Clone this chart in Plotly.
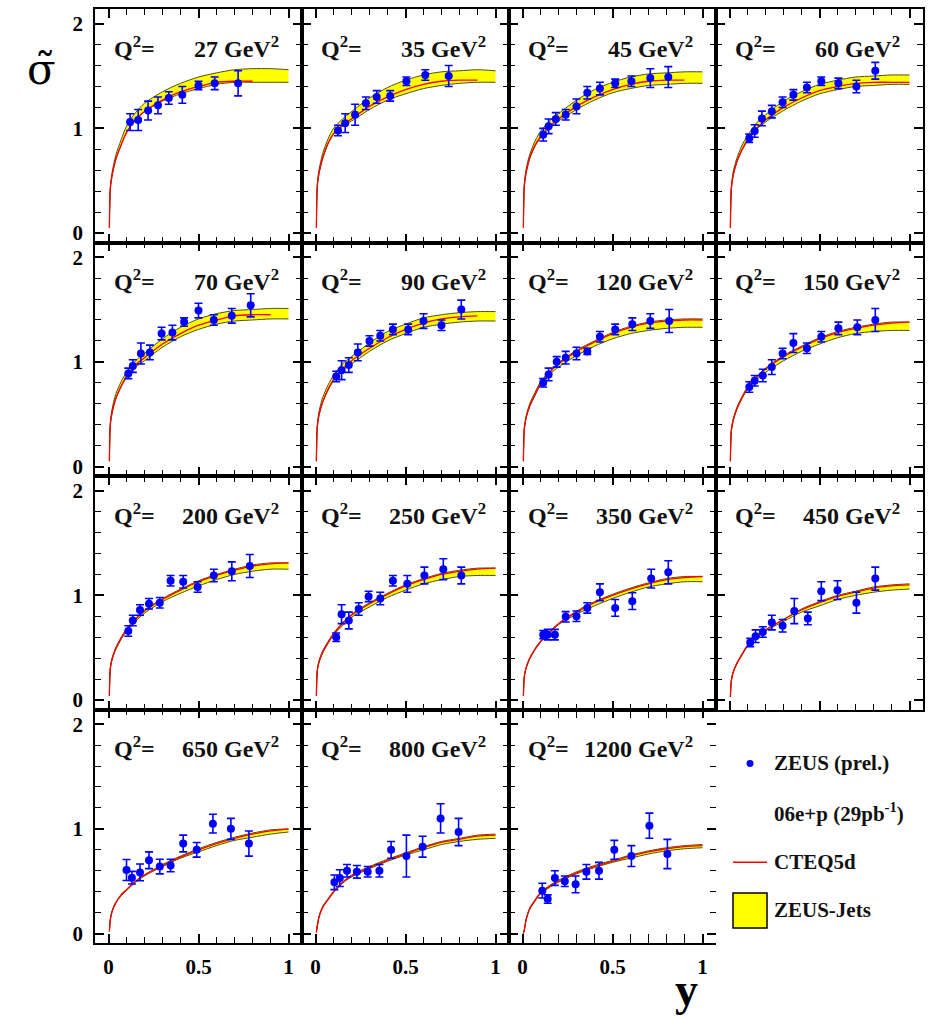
import plotly.graph_objects as go
from plotly.subplots import make_subplots

# ---------------- data ----------------
Q2_LABELS = ["27", "35", "45", "60", "70", "90", "120", "150",
             "200", "250", "350", "450", "650", "800", "1200"]

DATA_Y = [
    [0.12, 0.165, 0.22, 0.275, 0.335, 0.41, 0.50, 0.59, 0.72],
    [0.125, 0.165, 0.22, 0.28, 0.34, 0.415, 0.505, 0.61, 0.74],
    [0.115, 0.145, 0.185, 0.24, 0.30, 0.36, 0.43, 0.515, 0.605, 0.71, 0.81],
    [0.11, 0.14, 0.18, 0.235, 0.295, 0.355, 0.43, 0.51, 0.605, 0.705, 0.81],
    [0.11, 0.135, 0.18, 0.23, 0.295, 0.355, 0.42, 0.50, 0.585, 0.685, 0.79],
    [0.115, 0.145, 0.185, 0.235, 0.30, 0.36, 0.43, 0.515, 0.60, 0.70, 0.81],
    [0.115, 0.145, 0.19, 0.24, 0.30, 0.36, 0.43, 0.515, 0.61, 0.71, 0.815],
    [0.11, 0.14, 0.185, 0.235, 0.295, 0.355, 0.43, 0.51, 0.605, 0.71, 0.81],
    [0.11, 0.135, 0.175, 0.225, 0.285, 0.345, 0.415, 0.495, 0.585, 0.685, 0.785],
    [0.115, 0.145, 0.185, 0.24, 0.295, 0.36, 0.43, 0.51, 0.605, 0.71, 0.81],
    [0.115, 0.14, 0.18, 0.24, 0.30, 0.36, 0.43, 0.515, 0.61, 0.715, 0.81],
    [0.115, 0.145, 0.185, 0.235, 0.295, 0.36, 0.435, 0.51, 0.60, 0.705, 0.81],
    [0.10, 0.13, 0.175, 0.225, 0.285, 0.345, 0.415, 0.49, 0.58, 0.68, 0.78],
    [0.105, 0.135, 0.175, 0.23, 0.29, 0.355, 0.42, 0.505, 0.595, 0.695, 0.795],
    [0.11, 0.14, 0.18, 0.235, 0.295, 0.355, 0.425, 0.51, 0.605, 0.705, 0.805],
]

DATA_SIGMA = [
    [1.06, 1.08, 1.17, 1.22, 1.29, 1.32, 1.41, 1.43, 1.43],
    [0.98, 1.05, 1.13, 1.24, 1.30, 1.31, 1.45, 1.51, 1.50],
    [0.94, 1.02, 1.09, 1.13, 1.21, 1.34, 1.38, 1.43, 1.45, 1.48, 1.49],
    [0.905, 0.975, 1.095, 1.16, 1.25, 1.32, 1.39, 1.45, 1.43, 1.40, 1.55],
    [0.89, 0.96, 1.08, 1.09, 1.27, 1.28, 1.38, 1.49, 1.40, 1.44, 1.54],
    [0.86, 0.92, 0.97, 1.09, 1.20, 1.25, 1.31, 1.31, 1.39, 1.35, 1.50],
    [0.80, 0.88, 1.00, 1.04, 1.08, 1.10, 1.24, 1.31, 1.36, 1.39, 1.39],
    [0.76, 0.82, 0.87, 0.95, 1.08, 1.18, 1.13, 1.24, 1.32, 1.33, 1.40],
    [0.66, 0.76, 0.86, 0.92, 0.93, 1.14, 1.13, 1.08, 1.19, 1.23, 1.28],
    [0.60, 0.82, 0.76, 0.87, 0.99, 0.97, 1.14, 1.11, 1.19, 1.25, 1.19],
    [0.625, 0.625, 0.625, 0.795, 0.80, 0.88, 1.03, 0.88, 0.945, 1.16, 1.22],
    [0.55, 0.61, 0.65, 0.74, 0.71, 0.85, 0.78, 1.04, 1.05, 0.93, 1.16],
    [0.607, 0.534, 0.584, 0.70, 0.64, 0.65, 0.86, 0.80, 1.05, 1.00, 0.86],
    [0.49, 0.53, 0.60, 0.59, 0.59, 0.60, 0.80, 0.74, 0.83, 1.10, 0.97],
    [0.41, 0.33, 0.53, 0.50, 0.47, 0.59, 0.60, 0.80, 0.74, 1.03, 0.76],
]

DATA_ERR = [
    [0.08, 0.10, 0.09, 0.08, 0.06, 0.08, 0.04, 0.06, 0.12],
    [0.05, 0.09, 0.10, 0.06, 0.06, 0.05, 0.04, 0.05, 0.10],
    [0.06, 0.07, 0.06, 0.05, 0.07, 0.06, 0.06, 0.04, 0.05, 0.09, 0.10],
    [0.04, 0.06, 0.07, 0.06, 0.05, 0.05, 0.05, 0.04, 0.05, 0.06, 0.08],
    [0.05, 0.06, 0.10, 0.07, 0.06, 0.07, 0.04, 0.07, 0.05, 0.07, 0.11],
    [0.05, 0.09, 0.07, 0.08, 0.05, 0.05, 0.05, 0.05, 0.07, 0.05, 0.09],
    [0.04, 0.06, 0.05, 0.06, 0.06, 0.03, 0.05, 0.05, 0.06, 0.07, 0.11],
    [0.05, 0.05, 0.06, 0.07, 0.05, 0.09, 0.05, 0.05, 0.06, 0.07, 0.11],
    [0.05, 0.05, 0.05, 0.05, 0.05, 0.05, 0.06, 0.05, 0.06, 0.09, 0.11],
    [0.04, 0.09, 0.08, 0.06, 0.05, 0.06, 0.05, 0.08, 0.08, 0.10, 0.08],
    [0.04, 0.05, 0.05, 0.05, 0.05, 0.05, 0.08, 0.08, 0.08, 0.09, 0.11],
    [0.04, 0.06, 0.05, 0.07, 0.06, 0.12, 0.06, 0.09, 0.09, 0.10, 0.11],
    [0.10, 0.06, 0.08, 0.08, 0.07, 0.06, 0.08, 0.07, 0.09, 0.10, 0.12],
    [0.07, 0.08, 0.06, 0.06, 0.05, 0.06, 0.08, 0.20, 0.10, 0.14, 0.13],
    [0.07, 0.04, 0.07, 0.05, 0.08, 0.07, 0.08, 0.09, 0.10, 0.12, 0.14],
]

CURVE_Y = [0.005, 0.01, 0.02, 0.04, 0.07, 0.1, 0.15, 0.2, 0.3, 0.4, 0.5, 0.6, 0.7, 0.8, 0.9, 1.0]

CTEQ = [
    [0.05, 0.42, 0.55, 0.70, 0.84, 0.96, 1.08, 1.16, 1.27, 1.35, 1.40, 1.44, 1.45, 1.45, None, None],
    [0.05, 0.45, 0.58, 0.72, 0.86, 0.95, 1.03, 1.09, 1.21, 1.30, 1.37, 1.42, 1.45, 1.46, 1.46, None],
    [0.05, 0.45, 0.58, 0.72, 0.84, 0.92, 1.02, 1.09, 1.21, 1.30, 1.37, 1.42, 1.45, 1.46, 1.46, None],
    [0.05, 0.42, 0.55, 0.68, 0.80, 0.89, 1.00, 1.08, 1.20, 1.29, 1.36, 1.40, 1.43, 1.44, 1.44, 1.44],
    [0.05, 0.40, 0.52, 0.65, 0.77, 0.86, 0.97, 1.04, 1.17, 1.27, 1.35, 1.40, 1.44, 1.45, 1.45, None],
    [0.05, 0.38, 0.50, 0.62, 0.74, 0.83, 0.93, 1.01, 1.13, 1.23, 1.31, 1.37, 1.41, 1.43, 1.44, None],
    [0.05, 0.36, 0.47, 0.58, 0.69, 0.79, 0.90, 0.98, 1.10, 1.19, 1.27, 1.33, 1.37, 1.39, 1.40, 1.40],
    [0.05, 0.34, 0.44, 0.55, 0.66, 0.75, 0.85, 0.93, 1.05, 1.14, 1.22, 1.28, 1.32, 1.35, 1.37, 1.38],
    [0.04, 0.30, 0.39, 0.49, 0.59, 0.67, 0.77, 0.85, 0.96, 1.05, 1.13, 1.19, 1.24, 1.28, 1.30, 1.31],
    [0.04, 0.28, 0.37, 0.46, 0.55, 0.63, 0.73, 0.81, 0.92, 1.01, 1.09, 1.15, 1.20, 1.23, 1.25, 1.26],
    [0.04, 0.22, 0.31, 0.40, 0.49, 0.56, 0.65, 0.73, 0.84, 0.93, 1.00, 1.06, 1.11, 1.15, 1.17, 1.18],
    [0.03, 0.18, 0.26, 0.35, 0.44, 0.52, 0.60, 0.67, 0.77, 0.86, 0.93, 0.99, 1.03, 1.07, 1.09, 1.10],
    [0.02, 0.13, 0.21, 0.29, 0.37, 0.42, 0.50, 0.56, 0.65, 0.73, 0.80, 0.86, 0.91, 0.95, 0.98, 1.00],
    [0.01, 0.07, 0.16, 0.25, 0.33, 0.40, 0.49, 0.55, 0.63, 0.70, 0.76, 0.82, 0.87, 0.90, 0.93, 0.94],
    [0.00, 0.03, 0.13, 0.24, 0.32, 0.39, 0.45, 0.50, 0.58, 0.64, 0.69, 0.74, 0.78, 0.81, 0.83, 0.84],
]

BAND_LO = [
    [0.05, 0.42, 0.55, 0.70, 0.84, 0.96, 1.08, 1.16, 1.26, 1.33, 1.38, 1.42, 1.44, 1.44, 1.44, 1.44],
    [0.05, 0.44, 0.57, 0.71, 0.85, 0.94, 1.02, 1.07, 1.18, 1.27, 1.33, 1.38, 1.41, 1.43, 1.44, 1.44],
    [0.05, 0.44, 0.57, 0.71, 0.83, 0.91, 1.00, 1.07, 1.18, 1.27, 1.34, 1.38, 1.41, 1.42, 1.43, 1.43],
    [0.05, 0.41, 0.54, 0.67, 0.79, 0.88, 0.99, 1.06, 1.17, 1.26, 1.33, 1.37, 1.40, 1.41, 1.42, 1.42],
    [0.05, 0.39, 0.51, 0.64, 0.76, 0.85, 0.95, 1.01, 1.14, 1.24, 1.31, 1.36, 1.39, 1.40, 1.41, 1.41],
    [0.05, 0.37, 0.49, 0.61, 0.73, 0.82, 0.92, 0.98, 1.10, 1.20, 1.27, 1.33, 1.36, 1.38, 1.39, 1.39],
    [0.05, 0.35, 0.46, 0.57, 0.68, 0.78, 0.88, 0.95, 1.06, 1.15, 1.22, 1.27, 1.30, 1.32, 1.33, 1.33],
    [0.05, 0.33, 0.43, 0.54, 0.65, 0.74, 0.83, 0.90, 1.01, 1.10, 1.17, 1.23, 1.27, 1.29, 1.30, 1.30],
    [0.04, 0.30, 0.39, 0.48, 0.58, 0.66, 0.75, 0.83, 0.94, 1.02, 1.09, 1.15, 1.20, 1.23, 1.25, 1.25],
    [0.04, 0.28, 0.36, 0.45, 0.54, 0.62, 0.71, 0.79, 0.89, 0.98, 1.05, 1.11, 1.15, 1.18, 1.19, 1.19],
    [0.04, 0.22, 0.30, 0.39, 0.48, 0.55, 0.64, 0.72, 0.82, 0.90, 0.97, 1.03, 1.08, 1.11, 1.13, 1.13],
    [0.03, 0.18, 0.26, 0.34, 0.43, 0.51, 0.59, 0.66, 0.75, 0.84, 0.90, 0.96, 1.00, 1.03, 1.05, 1.06],
    [0.02, 0.13, 0.21, 0.29, 0.36, 0.41, 0.49, 0.55, 0.64, 0.72, 0.78, 0.84, 0.89, 0.92, 0.95, 0.97],
    [0.01, 0.07, 0.16, 0.25, 0.32, 0.39, 0.48, 0.54, 0.62, 0.69, 0.75, 0.80, 0.85, 0.88, 0.90, 0.91],
    [0.00, 0.03, 0.13, 0.23, 0.31, 0.38, 0.44, 0.49, 0.57, 0.63, 0.68, 0.72, 0.76, 0.79, 0.81, 0.82],
]

BAND_HI = [
    [0.06, 0.44, 0.58, 0.74, 0.89, 1.02, 1.15, 1.24, 1.35, 1.43, 1.49, 1.53, 1.56, 1.57, 1.57, 1.56],
    [0.06, 0.47, 0.61, 0.76, 0.90, 1.00, 1.09, 1.16, 1.29, 1.39, 1.46, 1.51, 1.54, 1.55, 1.56, 1.55],
    [0.06, 0.47, 0.61, 0.75, 0.88, 0.97, 1.07, 1.14, 1.27, 1.37, 1.44, 1.49, 1.52, 1.53, 1.54, 1.54],
    [0.06, 0.44, 0.58, 0.71, 0.84, 0.93, 1.05, 1.13, 1.26, 1.35, 1.42, 1.46, 1.49, 1.50, 1.51, 1.51],
    [0.06, 0.42, 0.55, 0.69, 0.81, 0.90, 1.01, 1.08, 1.22, 1.33, 1.41, 1.46, 1.49, 1.50, 1.51, 1.51],
    [0.06, 0.40, 0.53, 0.66, 0.78, 0.87, 0.98, 1.05, 1.18, 1.29, 1.36, 1.42, 1.45, 1.47, 1.48, 1.48],
    [0.06, 0.37, 0.48, 0.60, 0.71, 0.81, 0.91, 0.99, 1.11, 1.20, 1.28, 1.34, 1.38, 1.40, 1.41, 1.41],
    [0.06, 0.35, 0.45, 0.56, 0.67, 0.76, 0.86, 0.94, 1.06, 1.15, 1.23, 1.29, 1.33, 1.36, 1.38, 1.38],
    [0.05, 0.31, 0.40, 0.50, 0.60, 0.68, 0.78, 0.86, 0.97, 1.06, 1.14, 1.20, 1.25, 1.29, 1.31, 1.31],
    [0.05, 0.29, 0.38, 0.47, 0.56, 0.64, 0.74, 0.82, 0.93, 1.02, 1.10, 1.16, 1.21, 1.24, 1.26, 1.26],
    [0.05, 0.23, 0.31, 0.40, 0.49, 0.56, 0.65, 0.73, 0.85, 0.94, 1.01, 1.07, 1.12, 1.16, 1.18, 1.18],
    [0.04, 0.19, 0.27, 0.35, 0.44, 0.52, 0.60, 0.67, 0.77, 0.87, 0.94, 1.00, 1.04, 1.08, 1.10, 1.11],
    [0.03, 0.14, 0.22, 0.30, 0.37, 0.42, 0.50, 0.56, 0.66, 0.74, 0.81, 0.87, 0.92, 0.96, 0.99, 1.00],
    [0.02, 0.08, 0.17, 0.26, 0.33, 0.40, 0.49, 0.56, 0.64, 0.71, 0.77, 0.83, 0.88, 0.91, 0.94, 0.95],
    [0.01, 0.04, 0.14, 0.24, 0.32, 0.39, 0.46, 0.51, 0.59, 0.65, 0.70, 0.75, 0.79, 0.82, 0.84, 0.85],
]

LEGEND_TEXT = ["ZEUS (prel.)", "06e+p (29pb<sup>-1</sup>)", "CTEQ5d", "ZEUS-Jets"]

# ---------------- styling ----------------
W, H = 932, 1020
ML, MR, MT, MB = 95, 9, 7, 77
PW, PH = W - ML - MR, H - MT - MB
FONT = "Liberation Serif"
BLUE = "#0000ff"
RED = "#ff0000"
YELLOW = "#ffff00"
EDGE = "#3a3a00"
XR = [-0.075, 1.075]
YR = [-0.09, 2.14]


def px_x(v):
    return (v - ML) / PW


def px_y(v):
    return (H - MB - v) / PH


fig = make_subplots(rows=4, cols=4, horizontal_spacing=0, vertical_spacing=0)

for i in range(len(Q2_LABELS)):
    r, c = i // 4 + 1, i % 4 + 1
    fig.add_trace(go.Scatter(x=CURVE_Y, y=BAND_LO[i], mode="lines",
                             line=dict(color=EDGE, width=0.9, shape="spline", smoothing=0.8),
                             hoverinfo="skip", showlegend=False), row=r, col=c)
    fig.add_trace(go.Scatter(x=CURVE_Y, y=BAND_HI[i], mode="lines", fill="tonexty",
                             fillcolor=YELLOW,
                             line=dict(color=EDGE, width=0.9, shape="spline", smoothing=0.8),
                             hoverinfo="skip", showlegend=False), row=r, col=c)
    fig.add_trace(go.Scatter(x=CURVE_Y, y=CTEQ[i], mode="lines",
                             line=dict(color=RED, width=1.3, shape="spline", smoothing=0.8),
                             hoverinfo="skip", showlegend=False), row=r, col=c)
    fig.add_trace(go.Scatter(x=DATA_Y[i], y=DATA_SIGMA[i], mode="markers",
                             marker=dict(color=BLUE, size=8),
                             error_y=dict(type="data", array=DATA_ERR[i], color=BLUE,
                                          thickness=1.6, width=4),
                             showlegend=False), row=r, col=c)

tickfont = dict(family=FONT, size=21, color="black", weight="bold")

for k in range(1, 17):
    r, c = (k - 1) // 4 + 1, (k - 1) % 4 + 1
    xa = "xaxis" if k == 1 else f"xaxis{k}"
    ya = "yaxis" if k == 1 else f"yaxis{k}"
    if k == 16:
        fig.layout[xa].update(visible=False, range=XR)
        fig.layout[ya].update(visible=False, range=YR)
        continue
    fig.layout[xa].update(
        range=XR, showline=True, linecolor="black", linewidth=1.6,
        mirror="allticks", ticks="inside", ticklen=9, tickwidth=1.5, tickcolor="black",
        tick0=0, dtick=0.5, showgrid=False, zeroline=False,
        minor=dict(tick0=0, dtick=0.1, ticks="inside", ticklen=6, tickwidth=1.3,
                   tickcolor="black", showgrid=False),
        showticklabels=(r == 4), tickfont=tickfont, ticklabelstandoff=4,
    )
    fig.layout[ya].update(
        range=YR, showline=True, linecolor="black", linewidth=1.6,
        mirror=(False if k == 15 else "allticks"), ticks="inside", ticklen=9,
        tickwidth=1.5, tickcolor="black",
        tick0=0, dtick=1, showgrid=False, zeroline=False,
        minor=dict(tick0=0, dtick=0.2, ticks="inside", ticklen=6, tickwidth=1.3,
                   tickcolor="black", showgrid=False),
        showticklabels=(c == 1), tickfont=tickfont, ticklabelstandoff=6,
    )

# right-side ticks (without line) for the last panel
fig.add_trace(go.Scatter(x=[None], y=[None], xaxis="x15", yaxis="y17",
                         showlegend=False, hoverinfo="skip"))
fig.update_layout(yaxis17=dict(
    overlaying="y15", side="right", anchor="x15", range=YR, showline=False,
    ticks="inside", ticklen=9, tickwidth=1.5, tickcolor="black", tick0=0, dtick=1,
    showgrid=False, zeroline=False, showticklabels=False,
    minor=dict(tick0=0, dtick=0.2, ticks="inside", ticklen=6, tickwidth=1.3,
               tickcolor="black", showgrid=False),
))

annotations = []
for i, q in enumerate(Q2_LABELS):
    k = i + 1
    xr = "x domain" if k == 1 else f"x{k} domain"
    yr = "y" if k == 1 else f"y{k}"
    annotations.append(dict(xref=xr, yref=yr, x=0.08, y=1.78, xanchor="left",
                            yanchor="middle", showarrow=False,
                            text="<b>Q<sup>2</sup>=</b>",
                            font=dict(family=FONT, size=24, color="#111")))
    annotations.append(dict(xref=xr, yref=yr, x=0.90, y=1.78, xanchor="right",
                            yanchor="middle", showarrow=False,
                            text=f"<b>{q} GeV<sup>2</sup></b>",
                            font=dict(family=FONT, size=24, color="#111")))

# axis titles
annotations.append(dict(xref="paper", yref="paper", x=px_x(42), y=px_y(68),
                        xanchor="center", yanchor="middle", showarrow=False,
                        text="σ\u0303", font=dict(family="DejaVu Serif", size=42,
                                                  color="black")))
annotations.append(dict(xref="paper", yref="paper", x=px_x(686), y=px_y(990),
                        xanchor="center", yanchor="middle", showarrow=False,
                        text="<b>y</b>", font=dict(family=FONT, size=46, color="black")))

leg_rows = [763, 812, 862, 910]
for t, yy in zip(LEGEND_TEXT, leg_rows):
    annotations.append(dict(xref="paper", yref="paper", x=px_x(772), y=px_y(yy),
                            xanchor="left", yanchor="middle", showarrow=False,
                            text=f"<b>{t}</b>",
                            font=dict(family=FONT, size=21, color="#111")))

shapes = [
    dict(type="circle", xref="paper", yref="paper",
         x0=px_x(746.5), x1=px_x(753.5), y0=px_y(766.5), y1=px_y(759.5),
         fillcolor=BLUE, line=dict(color=BLUE, width=0)),
    dict(type="line", xref="paper", yref="paper",
         x0=px_x(733), x1=px_x(767), y0=px_y(862), y1=px_y(862),
         line=dict(color=RED, width=1.5)),
    dict(type="rect", xref="paper", yref="paper",
         x0=px_x(733), x1=px_x(767), y0=px_y(928), y1=px_y(893),
         fillcolor=YELLOW, line=dict(color="black", width=1.5)),
]

fig.update_layout(
    width=W, height=H,
    margin=dict(l=ML, r=MR, t=MT, b=MB),
    paper_bgcolor="white", plot_bgcolor="white",
    showlegend=False,
    annotations=annotations,
    shapes=shapes,
)

fig.write_html("out.html")
